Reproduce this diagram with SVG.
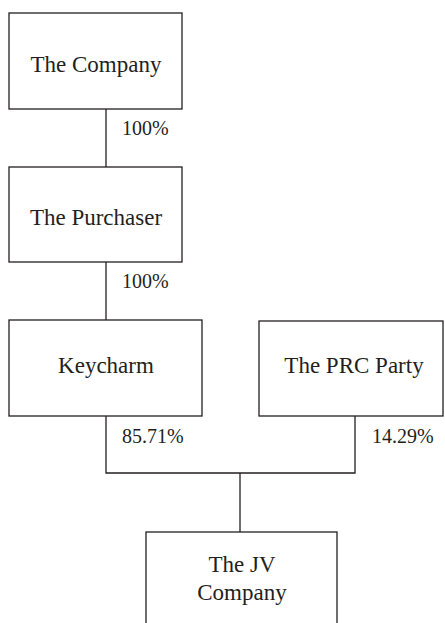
<svg xmlns="http://www.w3.org/2000/svg" width="445" height="623" viewBox="0 0 445 623">
<style>
.box{fill:#fff;stroke:#231f20;stroke-width:1.3}
.lbl{font-size:23px;fill:#231f20;text-anchor:middle}
.pct{font-size:20px;fill:#231f20}
.con{fill:none;stroke:#231f20;stroke-width:1.3}
</style>
<rect width="445" height="623" fill="#fff"/>
<g font-family="'Liberation Serif', 'Times New Roman', 'DejaVu Serif', serif">
<g id="connectors">
<path class="con" d="M106 109V167"/>
<path class="con" d="M106 262V320"/>
<path class="con" d="M106 416V473H355V416"/>
<path class="con" d="M240 473V532"/>
<text class="pct" x="122" y="135">100%</text>
<text class="pct" x="122" y="288">100%</text>
<text class="pct" x="122" y="443">85.71%</text>
<text class="pct" x="372" y="443">14.29%</text>
</g>
<g id="company">
<rect class="box" x="9" y="13" width="173" height="96"/>
<text class="lbl" x="96" y="72">The Company</text>
</g>
<g id="purchaser">
<rect class="box" x="9" y="167" width="173" height="95"/>
<text class="lbl" x="96" y="225">The Purchaser</text>
</g>
<g id="keycharm">
<rect class="box" x="9" y="320" width="193" height="96"/>
<text class="lbl" x="106" y="373">Keycharm</text>
</g>
<g id="prc">
<rect class="box" x="259" y="321" width="184" height="95"/>
<text class="lbl" x="354" y="373">The PRC Party</text>
</g>
<g id="jv">
<rect class="box" x="146" y="532" width="191" height="100"/>
<text class="lbl" x="242" y="572">The JV</text>
<text class="lbl" x="242" y="600">Company</text>
</g>
</g>
</svg>
